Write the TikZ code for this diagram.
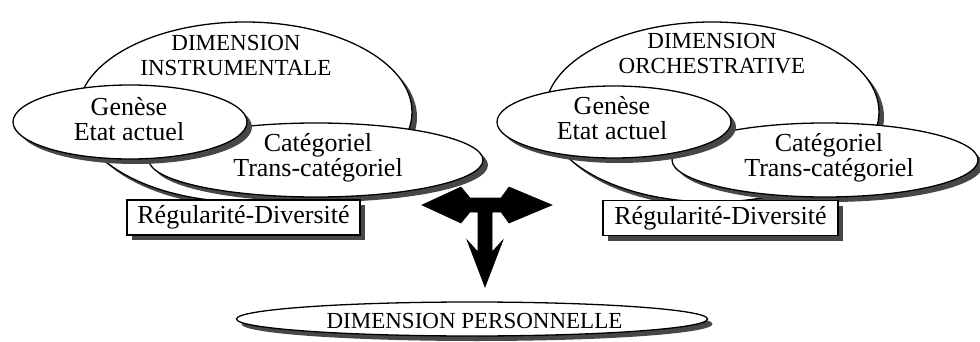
\documentclass[tikz,border=0pt]{standalone}
\usepackage{fontspec}
\setmainfont{Liberation Serif}
\usetikzlibrary{shapes.geometric,shadows}
\tikzset{
  shad/.style={drop shadow={shadow xshift=5pt,shadow yshift=-5pt,fill=black!72,opacity=1}},
  oval/.style={ellipse,draw,line width=1.3pt,fill=white,shad,inner sep=0pt},
  txt/.style={font=\fontsize{26}{25}\selectfont,align=center,inner sep=0pt},
  caps/.style={font=\fontsize{23}{25}\selectfont,align=center,inner sep=0pt},
  regbox/.style={draw,line width=1.3pt,fill=white,shad,inner sep=0pt,
    font=\fontsize{26}{25}\selectfont},
  tarrow/.style={fill=black,draw=black,line width=0.6pt,line join=miter}
}
\begin{document}
\begin{tikzpicture}[x=1pt,y=-1pt]
\useasboundingbox (0,0) rectangle (980,342);
% ---------- left group ----------
\node[oval,minimum width=334pt,minimum height=180pt] (lbig) at (245,112) {};
\node[caps] (lbigt) at (236,55) {DIMENSION\\INSTRUMENTALE};
\node[oval,minimum width=334pt,minimum height=74pt] (lcat) at (316,160) {};
\node[txt] (lcatt) at (318,158) {Catégoriel\\Trans-catégoriel};
\node[oval,minimum width=234pt,minimum height=74pt] (lgen) at (130,122) {};
\node[txt] (lgent) at (129,119) {Genèse\\Etat actuel};
\node[regbox,minimum width=233pt,minimum height=35pt] (lreg) at (243.5,217.5) {Régularité-Diversité};
% ---------- right group ----------
\node[oval,minimum width=334pt,minimum height=180pt] (rbig) at (712,112) {};
\node[caps] (rbigt) at (712,54) {DIMENSION\\ORCHESTRATIVE};
\node[oval,minimum width=306pt,minimum height=74pt] (rcat) at (825,160) {};
\node[txt] (rcatt) at (829,158) {Catégoriel\\Trans-catégoriel};
\node[oval,minimum width=234pt,minimum height=72pt] (rgen) at (614,122) {};
\node[txt] (rgent) at (612,118) {Genèse\\Etat actuel};
\node[regbox,minimum width=235pt,minimum height=35pt] (rreg) at (720.5,218) {Régularité-Diversité};
% ---------- bottom ----------
\node[oval,minimum width=471pt,minimum height=34pt] (pers) at (472,319) {};
\node[caps] (perst) at (474.5,320.5) {DIMENSION PERSONNELLE};
% ---------- T arrow ----------
\coordinate (tc) at (485,205);
\begin{scope}[shift={(tc)}]
\fill[tarrow] (-63,0) -- (-24,-18) -- (-15,-7) -- (16,-7) -- (24,-18) -- (67,0)
  -- (24,18) -- (16,7) -- (7,7) -- (7,47) -- (18,35) -- (0,82) -- (-18,35)
  -- (-7,47) -- (-7,7) -- (-15,7) -- (-24,18) -- cycle;
\end{scope}
\end{tikzpicture}
\end{document}
